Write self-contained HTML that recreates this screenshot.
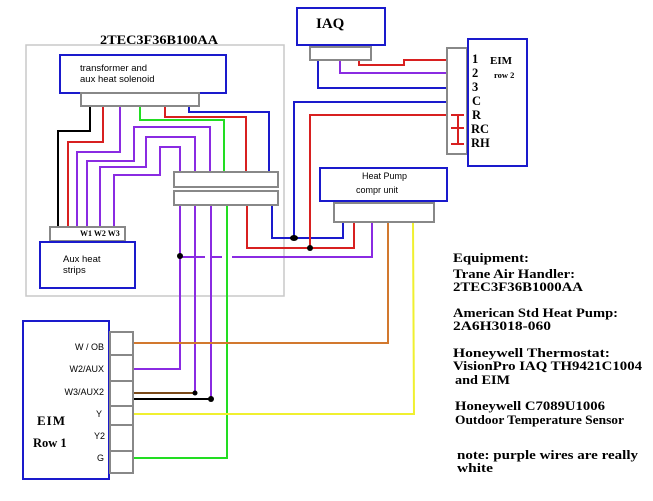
<!DOCTYPE html>
<html><head><meta charset="utf-8"><style>
html,body{margin:0;padding:0;background:#fff;}
svg{display:block}
.s{font-family:"Liberation Sans",sans-serif;fill:#000}
.b{font-family:"Liberation Serif",serif;font-weight:bold;fill:#000}
</style></head><body>
<svg width="653" height="501" viewBox="0 0 653 501" xmlns="http://www.w3.org/2000/svg">
<g fill="none" stroke-width="2">
<rect x="26" y="45" width="258" height="251" stroke="#c8c8c8" stroke-width="1.5"/>
<polyline points="90,106 90,131 58,131 58,227" stroke="#000"/>
<polyline points="103,106 103,142 68,142 68,227" stroke="#d82020"/>
<polyline points="120,106 120,152 77,152 77,227" stroke="#8a2be2"/>
<polyline points="87,227 87,161 134,161 134,127 210,127 210,172" stroke="#8a2be2"/>
<polyline points="100,227 100,167 146,167 146,137 195,137 195,172" stroke="#8a2be2"/>
<polyline points="114,227 114,175 160,175 160,147 180,147 180,172" stroke="#8a2be2"/>
<polyline points="140,106 140,120 224,120 224,172" stroke="#22dd22"/>
<polyline points="165,106 165,117 246,117 246,172" stroke="#d82020"/>
<polyline points="189,106 189,112 269,112 269,172" stroke="#1a1acc"/>
<polyline points="180,205 180,369 134,369" stroke="#8a2be2"/>
<polyline points="195,205 195,393" stroke="#8a2be2"/>
<polyline points="211,205 211,399" stroke="#8a2be2"/>
<polyline points="227,205 227,458 134,458" stroke="#22dd22"/>
<polyline points="247,205 247,248 354,248 354,222" stroke="#d82020"/>
<polyline points="272,205 272,238 343,238 343,222" stroke="#1a1acc"/>
<polyline points="310,248 310,115 447,115" stroke="#d82020"/>
<polyline points="294,238 294,102 447,102" stroke="#1a1acc"/>
<line x1="180" y1="257" x2="205" y2="257" stroke="#8a2be2"/>
<line x1="211" y1="257" x2="222" y2="257" stroke="#8a2be2"/>
<polyline points="232,257 372,257 372,222" stroke="#8a2be2"/>
<polyline points="388,222 388,343 134,343" stroke="#d2782e"/>
<polyline points="413,222 414,414 134,414" stroke="#f0f030"/>
<line x1="133" y1="393" x2="195" y2="393" stroke="#7a4a1a"/>
<line x1="133" y1="399" x2="211" y2="399" stroke="#000"/>
<polyline points="359,60 359,65 404,65 404,60 447,60" stroke="#d82020"/>
<polyline points="340,60 340,73 447,73" stroke="#8a2be2"/>
<polyline points="318,60 318,88 447,88" stroke="#1a1acc"/>
<polyline points="458,115 458,144" stroke="#d82020"/>
<line x1="451" y1="115" x2="464" y2="115" stroke="#d82020"/>
<line x1="451" y1="128" x2="464" y2="128" stroke="#d82020"/>
<line x1="451" y1="144" x2="464" y2="144" stroke="#d82020"/>
<rect x="60" y="55" width="166" height="38" stroke="#1a1acc" fill="#fff"/>
<rect x="81" y="93" width="118" height="13" stroke="#888" fill="#fff"/>
<rect x="174" y="172" width="104" height="15" stroke="#888" fill="#fff"/>
<rect x="174" y="191" width="104" height="14" stroke="#888" fill="#fff"/>
<rect x="50" y="227" width="75" height="14" stroke="#888" fill="#fff"/>
<rect x="40" y="242" width="95" height="46" stroke="#1a1acc" fill="#fff"/>
<rect x="297" y="8" width="88" height="37" stroke="#1a1acc" fill="#fff"/>
<rect x="310" y="47" width="61" height="13" stroke="#888" fill="#fff"/>
<rect x="447" y="48" width="20" height="106" stroke="#888"/>
<rect x="468" y="39" width="59" height="127" stroke="#1a1acc" fill="#fff"/>
<rect x="320" y="168" width="127" height="33" stroke="#1a1acc" fill="#fff"/>
<rect x="334" y="203" width="100" height="19" stroke="#888" fill="#fff"/>
<rect x="23" y="321" width="86" height="158" stroke="#1a1acc" fill="#fff"/>
<rect x="110" y="332" width="23" height="141" stroke="#888" fill="#fff"/>
<g stroke="#888"><line x1="110" y1="355" x2="133" y2="355"/><line x1="110" y1="381" x2="133" y2="381"/><line x1="110" y1="406" x2="133" y2="406"/><line x1="110" y1="425" x2="133" y2="425"/><line x1="110" y1="451" x2="133" y2="451"/></g>
</g>
<g fill="#000"><circle cx="180" cy="256" r="3"/><ellipse cx="294" cy="238" rx="4" ry="3"/><circle cx="310" cy="248" r="3"/><circle cx="195" cy="393" r="2.5"/><circle cx="211" cy="399" r="3"/></g>
<text class="b" x="100" y="44" font-size="13" textLength="118" lengthAdjust="spacingAndGlyphs">2TEC3F36B100AA</text>
<text class="s" x="80" y="71" font-size="9.5">transformer and</text>
<text class="s" x="80" y="82" font-size="9.5">aux heat solenoid</text>
<text class="b" x="80" y="236" font-size="8" font-weight="normal">W1 W2 W3</text>
<text class="s" x="63" y="262" font-size="9.5">Aux heat</text>
<text class="s" x="63" y="273" font-size="9.5">strips</text>
<text class="b" x="316" y="28" font-size="15">IAQ</text>
<g class="b" font-size="12.5"><text x="472" y="63">1</text><text x="472" y="77">2</text><text x="472" y="91">3</text><text x="472" y="105">C</text><text x="472" y="119">R</text><text x="471" y="133">RC</text><text x="471" y="147">RH</text></g>
<text class="b" x="490" y="64" font-size="11">EIM</text>
<text class="b" x="494" y="78" font-size="8.5">row 2</text>
<text class="s" x="362" y="179" font-size="9">Heat Pump</text>
<text class="s" x="356" y="193" font-size="9">compr  unit</text>
<g class="s" font-size="9" text-anchor="end"><text x="104" y="350">W / OB</text><text x="104" y="372">W2/AUX</text><text x="104" y="395">W3/AUX2</text><text x="102" y="417">Y</text><text x="105" y="439">Y2</text><text x="104" y="461">G</text></g>
<text class="b" x="37" y="425" font-size="13" letter-spacing="1">EIM</text>
<text class="b" x="33" y="447" font-size="12.5">Row 1</text>
<g class="b" font-size="13">
<text x="453" y="262" textLength="76" lengthAdjust="spacingAndGlyphs">Equipment:</text>
<text x="453" y="278" textLength="122" lengthAdjust="spacingAndGlyphs">Trane Air Handler:</text>
<text x="453" y="291" textLength="130" lengthAdjust="spacingAndGlyphs">2TEC3F36B1000AA</text>
<text x="453" y="317" textLength="165" lengthAdjust="spacingAndGlyphs">American Std Heat Pump:</text>
<text x="453" y="330" textLength="98" lengthAdjust="spacingAndGlyphs">2A6H3018-060</text>
<text x="453" y="357" textLength="157" lengthAdjust="spacingAndGlyphs">Honeywell Thermostat:</text>
<text x="453" y="370" textLength="189" lengthAdjust="spacingAndGlyphs">VisionPro IAQ TH9421C1004</text>
<text x="455" y="384" textLength="55" lengthAdjust="spacingAndGlyphs">and EIM</text>
<text x="455" y="410" textLength="150" lengthAdjust="spacingAndGlyphs">Honeywell C7089U1006</text>
<text x="455" y="424" textLength="169" lengthAdjust="spacingAndGlyphs">Outdoor Temperature Sensor</text>
<text x="457" y="459" textLength="181" lengthAdjust="spacingAndGlyphs">note: purple wires are really</text>
<text x="457" y="472" textLength="36" lengthAdjust="spacingAndGlyphs">white</text>
</g>
</svg>
</body></html>
